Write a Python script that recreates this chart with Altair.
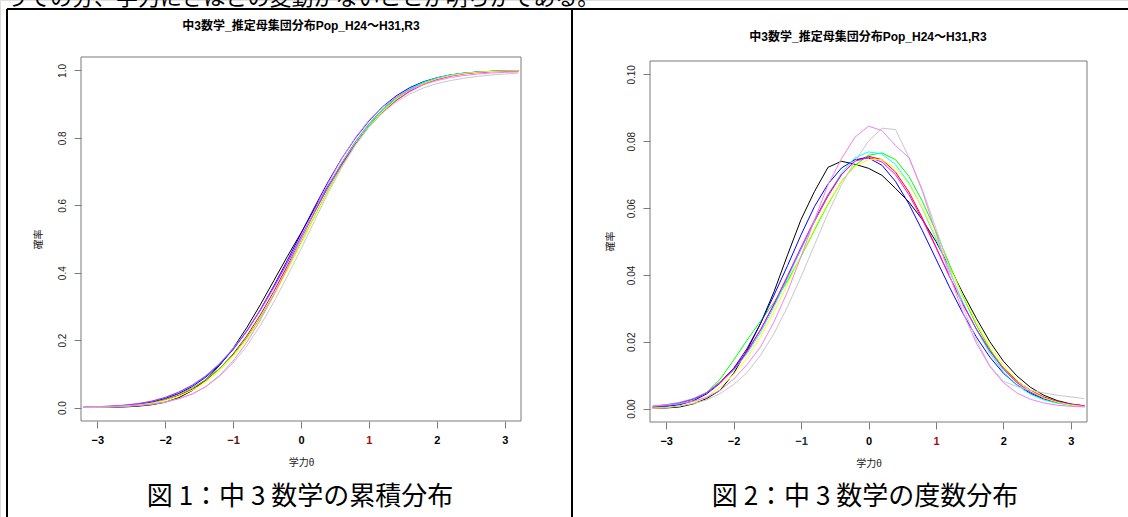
import altair as alt
import pandas as pd

# ---------------- texts ----------------
top_text = "うでの分、学力にさほどの変動がないことが明らかである。"
plot_title = "中3数学_推定母集団分布Pop_H24～H31,R3"
caption1 = "図 1：中 3 数学の累積分布"
caption2 = "図 2：中 3 数学の度数分布"
x_title = "学力θ"
y_title = "確率"

# ---------------- data ----------------
x_vals = [-3.2, -3.0, -2.8, -2.6, -2.4, -2.2, -2.0, -1.8, -1.6, -1.4, -1.2, -1.0, -0.8,
          -0.6, -0.4, -0.2, 0.0, 0.2, 0.4, 0.6, 0.8, 1.0, 1.2, 1.4, 1.6, 1.8, 2.0, 2.2,
          2.4, 2.6, 2.8, 3.0, 3.2]
x_ticks = [-3, -2, -1, 0, 1, 2, 3]
y1_ticks = [0.0, 0.2, 0.4, 0.6, 0.8, 1.0]
y2_ticks = [0.00, 0.02, 0.04, 0.06, 0.08, 0.10]

series = ["H24", "H25", "H26", "H27", "H28", "H29", "H30", "H31", "R3"]
colors = ["#000000", "#FF0000", "#00FF00", "#0000FF", "#00FFFF", "#FF00FF",
          "#FFFF00", "#C8C8C8", "#EE82EE"]

# cumulative distribution (figure 1)
cum_H24 = [0.0001, 0.0003, 0.0007, 0.0017, 0.0039, 0.0081, 0.0156, 0.0291, 0.0506, 0.0826,
           0.1246, 0.1756, 0.2366, 0.3046, 0.3766, 0.4486, 0.5180, 0.5900, 0.6580, 0.7220,
           0.7810, 0.8330, 0.8760, 0.9120, 0.9400, 0.9610, 0.9750, 0.9850, 0.9910, 0.9950,
           0.9970, 0.9980, 0.9990]
cum_H25 = [0.0007, 0.0013, 0.0026, 0.0047, 0.0082, 0.0139, 0.0228, 0.0359, 0.0548, 0.0808,
           0.1151, 0.1587, 0.2119, 0.2743, 0.3446, 0.4207, 0.5000, 0.5793, 0.6554, 0.7257,
           0.7881, 0.8413, 0.8849, 0.9192, 0.9452, 0.9641, 0.9772, 0.9861, 0.9918, 0.9953,
           0.9974, 0.9987, 0.9993]
cum_H26 = [0.0006, 0.0012, 0.0023, 0.0044, 0.0082, 0.0150, 0.0255, 0.0400, 0.0585, 0.0830,
           0.1150, 0.1560, 0.2060, 0.2660, 0.3350, 0.4100, 0.4890, 0.5680, 0.6450, 0.7170,
           0.7810, 0.8360, 0.8810, 0.9165, 0.9435, 0.9632, 0.9768, 0.9860, 0.9918, 0.9953,
           0.9974, 0.9986, 0.9993]
cum_H27 = [0.0010, 0.0018, 0.0033, 0.0059, 0.0101, 0.0168, 0.0270, 0.0418, 0.0624, 0.0903,
           0.1265, 0.1720, 0.2265, 0.2900, 0.3610, 0.4370, 0.5160, 0.5950, 0.6700, 0.7390,
           0.7990, 0.8500, 0.8920, 0.9245, 0.9490, 0.9665, 0.9785, 0.9866, 0.9920, 0.9953,
           0.9973, 0.9985, 0.9992]
cum_H28 = [0.0015, 0.0027, 0.0045, 0.0073, 0.0118, 0.0190, 0.0300, 0.0455, 0.0668, 0.0950,
           0.1310, 0.1755, 0.2280, 0.2885, 0.3560, 0.4290, 0.5050, 0.5820, 0.6560, 0.7250,
           0.7870, 0.8405, 0.8845, 0.9190, 0.9455, 0.9648, 0.9782, 0.9870, 0.9925, 0.9957,
           0.9976, 0.9987, 0.9993]
cum_H29 = [0.0014, 0.0024, 0.0040, 0.0067, 0.0112, 0.0185, 0.0298, 0.0456, 0.0662, 0.0935,
           0.1290, 0.1730, 0.2260, 0.2880, 0.3570, 0.4310, 0.5070, 0.5820, 0.6540, 0.7210,
           0.7810, 0.8330, 0.8760, 0.9105, 0.9375, 0.9580, 0.9728, 0.9830, 0.9898, 0.9940,
           0.9965, 0.9980, 0.9989]
cum_H30 = [0.0006, 0.0011, 0.0022, 0.0042, 0.0075, 0.0128, 0.0212, 0.0336, 0.0515, 0.0763,
           0.1093, 0.1517, 0.2020, 0.2628, 0.3318, 0.4072, 0.4860, 0.5655, 0.6423, 0.7135,
           0.7775, 0.8325, 0.8778, 0.9135, 0.9410, 0.9610, 0.9752, 0.9848, 0.9910, 0.9948,
           0.9971, 0.9985, 0.9992]
cum_H31 = [0.0004, 0.0008, 0.0016, 0.0030, 0.0055, 0.0095, 0.0160, 0.0260, 0.0410, 0.0620,
           0.0920, 0.1320, 0.1820, 0.2430, 0.3130, 0.3900, 0.4700, 0.5540, 0.6370, 0.7120,
           0.7780, 0.8320, 0.8740, 0.9060, 0.9300, 0.9480, 0.9610, 0.9700, 0.9770, 0.9825,
           0.9865, 0.9895, 0.9920]
cum_R3 = [0.0012, 0.0020, 0.0030, 0.0045, 0.0068, 0.0105, 0.0165, 0.0260, 0.0400, 0.0620,
          0.0950, 0.1380, 0.1930, 0.2590, 0.3340, 0.4150, 0.5000, 0.5850, 0.6650, 0.7380,
          0.8010, 0.8520, 0.8910, 0.9200, 0.9420, 0.9580, 0.9700, 0.9790, 0.9850, 0.9895,
          0.9925, 0.9945, 0.9958]

# frequency distribution (figure 2)
freq_H24 = [0.0001, 0.0002, 0.0005, 0.0014, 0.0030, 0.0055, 0.0105, 0.0175, 0.0255, 0.0350,
            0.0460, 0.0566, 0.0650, 0.0722, 0.0740, 0.0731, 0.0719, 0.0698, 0.0659, 0.0618,
            0.0565, 0.0500, 0.0425, 0.0345, 0.0270, 0.0200, 0.0142, 0.0098, 0.0064, 0.0040,
            0.0024, 0.0014, 0.0008]
freq_H25 = [0.0004, 0.0009, 0.0017, 0.0029, 0.0048, 0.0080, 0.0120, 0.0172, 0.0236, 0.0312,
            0.0394, 0.0478, 0.0560, 0.0636, 0.0700, 0.0742, 0.0755, 0.0745, 0.0708, 0.0648,
            0.0570, 0.0484, 0.0396, 0.0312, 0.0238, 0.0174, 0.0122, 0.0083, 0.0055, 0.0035,
            0.0021, 0.0013, 0.0008]
freq_H26 = [0.0003, 0.0006, 0.0012, 0.0024, 0.0048, 0.0088, 0.0145, 0.0205, 0.0262, 0.0318,
            0.0382, 0.0455, 0.0535, 0.0612, 0.0680, 0.0728, 0.0758, 0.0765, 0.0745, 0.0695,
            0.0620, 0.0530, 0.0432, 0.0336, 0.0250, 0.0178, 0.0120, 0.0078, 0.0049, 0.0030,
            0.0018, 0.0011, 0.0006]
freq_H27 = [0.0003, 0.0006, 0.0012, 0.0023, 0.0044, 0.0076, 0.0120, 0.0180, 0.0255, 0.0340,
            0.0428, 0.0520, 0.0605, 0.0672, 0.0720, 0.0745, 0.0750, 0.0728, 0.0680, 0.0612,
            0.0532, 0.0448, 0.0364, 0.0285, 0.0214, 0.0154, 0.0106, 0.0071, 0.0046, 0.0029,
            0.0018, 0.0011, 0.0007]
freq_H28 = [0.0008, 0.0012, 0.0019, 0.0030, 0.0048, 0.0078, 0.0115, 0.0165, 0.0228, 0.0305,
            0.0390, 0.0478, 0.0562, 0.0640, 0.0705, 0.0750, 0.0768, 0.0762, 0.0730, 0.0675,
            0.0598, 0.0508, 0.0412, 0.0318, 0.0236, 0.0166, 0.0110, 0.0070, 0.0043, 0.0026,
            0.0016, 0.0010, 0.0006]
freq_H29 = [0.0007, 0.0011, 0.0017, 0.0028, 0.0047, 0.0077, 0.0116, 0.0170, 0.0236, 0.0314,
            0.0398, 0.0483, 0.0565, 0.0640, 0.0700, 0.0740, 0.0752, 0.0738, 0.0700, 0.0640,
            0.0565, 0.0482, 0.0396, 0.0313, 0.0238, 0.0172, 0.0118, 0.0078, 0.0050, 0.0032,
            0.0020, 0.0013, 0.0009]
freq_H30 = [0.0001, 0.0003, 0.0008, 0.0017, 0.0035, 0.0064, 0.0102, 0.0152, 0.0215, 0.0290,
            0.0372, 0.0458, 0.0540, 0.0615, 0.0680, 0.0725, 0.0745, 0.0745, 0.0720, 0.0670,
            0.0600, 0.0515, 0.0425, 0.0338, 0.0258, 0.0188, 0.0130, 0.0085, 0.0053, 0.0032,
            0.0019, 0.0011, 0.0006]
freq_H31 = [0.0002, 0.0004, 0.0008, 0.0015, 0.0026, 0.0045, 0.0072, 0.0108, 0.0160, 0.0225,
            0.0305, 0.0395, 0.0490, 0.0585, 0.0670, 0.0740, 0.0800, 0.0839, 0.0835, 0.0752,
            0.0655, 0.0540, 0.0420, 0.0305, 0.0205, 0.0128, 0.0082, 0.0066, 0.0055, 0.0047,
            0.0040, 0.0035, 0.0030]
freq_R3 = [0.0008, 0.0011, 0.0015, 0.0022, 0.0034, 0.0055, 0.0088, 0.0132, 0.0185, 0.0260,
           0.0350, 0.0455, 0.0565, 0.0670, 0.0748, 0.0812, 0.0845, 0.0832, 0.0787, 0.0751,
           0.0650, 0.0525, 0.0400, 0.0288, 0.0196, 0.0126, 0.0078, 0.0047, 0.0028, 0.0017,
           0.0010, 0.0007, 0.0005]

cum_all = [cum_H24, cum_H25, cum_H26, cum_H27, cum_H28, cum_H29, cum_H30, cum_H31, cum_R3]
freq_all = [freq_H24, freq_H25, freq_H26, freq_H27, freq_H28, freq_H29, freq_H30, freq_H31, freq_R3]

rows_c, rows_f = [], []
for k, name in enumerate(series):
    for x, c, f in zip(x_vals, cum_all[k], freq_all[k]):
        rows_c.append({"x": x, "p": c, "series": name, "k": k})
        rows_f.append({"x": x, "p": f, "series": name, "k": k})
df_c = pd.DataFrame(rows_c)
df_f = pd.DataFrame(rows_f)
dummy = pd.DataFrame({"a": [0]})

W, H = 1128, 517
PLOT_FONT = "Liberation Sans, Noto Sans CJK JP"
DOC_FONT = "Noto Sans CJK JP"
BOX = "#7a7a7a"

color_enc = alt.Color("series:N", scale=alt.Scale(domain=series, range=colors), legend=None)


def x_axis(offset, minus_col):
    return alt.Axis(orient="bottom", offset=offset, values=x_ticks, format="d",
                    domain=False, grid=False, ticks=True, tickSize=7, tickColor=BOX,
                    labelFont=PLOT_FONT, labelFontSize=11, labelFontWeight="bold",
                    labelPadding=6,
                    labelColor={"condition": [{"test": "datum.value == 1", "value": "#a01010"},
                                              {"test": "datum.value == -1", "value": minus_col}],
                                "value": "#000000"},
                    title=x_title, titleFont=PLOT_FONT, titleFontSize=10,
                    titleFontWeight="normal", titleColor="#222222",
                    titleY=41, titleBaseline="middle")


def y_axis(offset, ticks, fmt, title_x, title_y):
    return alt.Axis(orient="left", offset=offset, values=ticks, format=fmt,
                    domain=False, grid=False, ticks=True, tickSize=7, tickColor=BOX,
                    labelFont=PLOT_FONT, labelFontSize=10, labelColor="#222222",
                    labelAngle=270, labelAlign="center", labelBaseline="bottom",
                    labelPadding=7,
                    title=y_title, titleFont=PLOT_FONT, titleFontSize=10,
                    titleFontWeight="normal", titleColor="#222222",
                    titleAngle=270, titleAlign="center", titleBaseline="middle",
                    titleX=title_x, titleY=title_y)


# panel 1: cumulative
P1 = dict(x0=81, x1=521, y0=57, y1=421)
line1 = alt.Chart(df_c).mark_line(strokeWidth=1).encode(
    x=alt.X("x:Q", scale=alt.Scale(domain=[-3.24, 3.24], range=[P1["x0"], P1["x1"]], nice=False, zero=False),
            axis=x_axis(-(H - P1["y1"]), "#601010")),
    y=alt.Y("p:Q", scale=alt.Scale(domain=[-0.04, 1.04], range=[P1["y1"], P1["y0"]], nice=False, zero=False),
            axis=y_axis(-P1["x0"], y1_ticks, ".1f", -43, 239)),
    color=color_enc,
    order=alt.Order("x:Q"),
    detail="k:N",
)

# panel 2: frequency
P2 = dict(x0=650, x1=1087, y0=61, y1=422)
line2 = alt.Chart(df_f).mark_line(strokeWidth=1).encode(
    x=alt.X("x:Q", scale=alt.Scale(domain=[-3.24, 3.24], range=[P2["x0"], P2["x1"]], nice=False, zero=False),
            axis=x_axis(-(H - P2["y1"]), "#103838")),
    y=alt.Y("p:Q", scale=alt.Scale(domain=[-0.004, 0.104], range=[P2["y1"], P2["y0"]], nice=False, zero=False),
            axis=y_axis(-P2["x0"], y2_ticks, ".2f", -40, 241)),
    color=color_enc,
    order=alt.Order("x:Q"),
    detail="k:N",
)


def box(p):
    return alt.Chart(dummy).mark_rect(fillOpacity=0, stroke=BOX, strokeWidth=1).encode(
        x=alt.value(p["x0"]), x2=alt.value(p["x1"]), y=alt.value(p["y0"]), y2=alt.value(p["y1"]))


def rule(xa, xb, ya, yb):
    return alt.Chart(dummy).mark_rule(color="black", strokeWidth=2).encode(
        x=alt.value(xa), x2=alt.value(xb), y=alt.value(ya), y2=alt.value(yb))


def text(s, x, y, size, font, weight="normal", align="center", baseline="middle", color="#000000"):
    return alt.Chart(dummy).mark_text(fontSize=size, font=font, fontWeight=weight, align=align,
                                      baseline=baseline, color=color).encode(
        x=alt.value(x), y=alt.value(y), text=alt.value(s))


layers = [
    rule(7, W, 9, 9),
    rule(7, 7, 9, H),
    rule(572, 572, 9, H),
    box(P1), box(P2),
    line1, line2,
    text(plot_title, 301, 26, 12, PLOT_FONT, "bold"),
    text(plot_title, 868, 37, 12, PLOT_FONT, "bold"),
    text(caption1, 300, 497, 26, DOC_FONT),
    text(caption2, 865, 497, 26, DOC_FONT),
    text(top_text, 6, 5, 22, DOC_FONT, align="left", baseline="alphabetic"),
]

chart = alt.layer(*layers).resolve_scale(
    x="independent", y="independent"
).resolve_axis(
    x="independent", y="independent"
).properties(
    width=W, height=H, autosize=alt.AutoSizeParams(type="none"), padding=0
).configure_view(stroke=None).configure(background="white")

chart.save("out.html", embed_options={"renderer": "svg", "actions": False})
